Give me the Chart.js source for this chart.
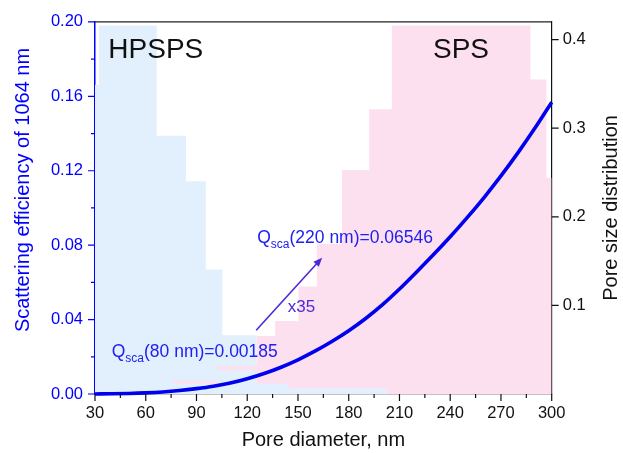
<!DOCTYPE html>
<html>
<head>
<meta charset="utf-8">
<script src="https://cdn.jsdelivr.net/npm/chart.js@4.4.1/dist/chart.umd.min.js"></script>
<style>
  html, body { margin: 0; padding: 0; background: #ffffff; }
  canvas { display: block; }
</style>
</head>
<body>
<canvas id="chart" width="623" height="453"></canvas>
<script>
// Pore size distributions: bin edges (nm) and bin heights (right axis)
const hpspsEdges = [30, 32.4, 66.5, 83.8, 95.5, 105.3, 125.7];
const hpspsHeights = [0.349, 0.416, 0.2915, 0.240, 0.1405, 0.0664];

const spsEdges = [76.3, 102.0, 125.7, 136.5, 150.3, 161.2, 176.0, 192.1, 205.5, 287.4, 296.9, 300];
const spsHeights = [0.0156, 0.0315, 0.0656, 0.0823, 0.1213, 0.1694, 0.2529, 0.3215, 0.416, 0.355, 0.2437];

// small-pore HPSPS bins drawn in front of the SPS bars
const hpspsLowEdges = [76.3, 102.0, 125.7, 144.4, 202.6];
const hpspsLowHeights = [0.0119, 0.0267, 0.0119, 0.0063];

// Scattering efficiency at 1064 nm versus pore diameter (left axis)
const qDiameters = [30, 40, 50, 60, 70, 80, 90, 100, 110, 120, 130, 140, 150, 160, 170,
                    180, 190, 200, 210, 220, 230, 240, 250, 260, 270, 280, 290, 300];
const qScattering = [0.00003, 0.00011, 0.00028, 0.00059, 0.00108, 0.00185, 0.0029, 0.0042,
                     0.0059, 0.0082, 0.0110, 0.0144, 0.0184, 0.0230, 0.0282, 0.0340, 0.0406,
                     0.0480, 0.0564, 0.06546, 0.0748, 0.0845, 0.0948, 0.1056, 0.1172, 0.1296,
                     0.1428, 0.1568];

// Tick values
const xTicks = [30, 60, 90, 120, 150, 180, 210, 240, 270, 300];
const leftTicks = [0, 0.04, 0.08, 0.12, 0.16, 0.20];
const rightTicks = [0.1, 0.2, 0.3, 0.4];

const FONT = '"Liberation Sans", Arial, Helvetica, sans-serif';
const BLUE = '#0000ff';
const NOTE_BLUE = '#2020f0';
const ARROW_COLOR = '#4a2ad8';
const HPSPS_FILL = '#e2f0fd';
const SPS_FILL = '#fde0ef';

// Turn bin edges + heights into points for a stepped line
function toSteps(edges, heights) {
  return edges.map((e, i) => ({ x: e, y: heights[Math.min(i, heights.length - 1)] }));
}

function histogram(label, edges, heights, color, order) {
  return {
    type: 'line',
    label,
    data: toSteps(edges, heights),
    yAxisID: 'y2',
    stepped: 'before',
    fill: 'origin',
    backgroundColor: color,
    borderColor: 'rgba(0,0,0,0)',
    borderWidth: 0,
    pointRadius: 0,
    order,
    clip: 0
  };
}

// Outward tick marks, frame, axis titles and annotations
const decorations = {
  id: 'decorations',
  afterDraw(chart) {
    const { ctx, chartArea: a, scales } = chart;
    const sx = scales.x, sy = scales.y, sy2 = scales.y2;
    ctx.save();

    // top frame line
    ctx.strokeStyle = '#222';
    ctx.lineWidth = 1.2;
    ctx.beginPath();
    ctx.moveTo(a.left, a.top);
    ctx.lineTo(a.right, a.top);
    ctx.stroke();

    const MAJOR = 7, MINOR = 4;

    // bottom axis ticks
    ctx.strokeStyle = '#111';
    ctx.lineWidth = 1.2;
    ctx.beginPath();
    xTicks.forEach((v, i) => {
      const px = sx.getPixelForValue(v);
      ctx.moveTo(px, a.bottom); ctx.lineTo(px, a.bottom + MAJOR);
      if (i < xTicks.length - 1) {
        const pm = sx.getPixelForValue((v + xTicks[i + 1]) / 2);
        ctx.moveTo(pm, a.bottom); ctx.lineTo(pm, a.bottom + MINOR);
      }
    });
    ctx.stroke();

    // left axis ticks
    ctx.strokeStyle = BLUE;
    ctx.beginPath();
    leftTicks.forEach((v, i) => {
      const py = sy.getPixelForValue(v);
      ctx.moveTo(a.left, py); ctx.lineTo(a.left - MAJOR, py);
      if (i < leftTicks.length - 1) {
        const pm = sy.getPixelForValue((v + leftTicks[i + 1]) / 2);
        ctx.moveTo(a.left, pm); ctx.lineTo(a.left - MINOR, pm);
      }
    });
    ctx.stroke();

    // right axis ticks
    ctx.strokeStyle = '#111';
    ctx.beginPath();
    rightTicks.forEach(v => {
      const py = sy2.getPixelForValue(v);
      ctx.moveTo(a.right, py); ctx.lineTo(a.right + MAJOR, py);
    });
    ctx.stroke();

    // vertical axis titles
    ctx.textAlign = 'center';
    ctx.textBaseline = 'middle';
    ctx.font = '20px ' + FONT;
    ctx.fillStyle = BLUE;
    ctx.save();
    ctx.translate(23.5, 190);
    ctx.rotate(-Math.PI / 2);
    ctx.fillText('Scattering efficiency of 1064 nm', 0, 0);
    ctx.restore();
    ctx.fillStyle = '#111';
    ctx.save();
    ctx.translate(611, (a.top + a.bottom) / 2);
    ctx.rotate(-Math.PI / 2);
    ctx.fillText('Pore size distribution', 0, 0);
    ctx.restore();

    // sample labels
    ctx.textAlign = 'left';
    ctx.textBaseline = 'alphabetic';
    ctx.font = '28px ' + FONT;
    ctx.fillStyle = '#111';
    ctx.fillText('HPSPS', sx.getPixelForValue(37.9), sy.getPixelForValue(0.1808));
    ctx.fillText('SPS', sx.getPixelForValue(229.8), sy.getPixelForValue(0.1808));

    // Q_sca labels with subscript
    function qLabel(xv, yv, rest) {
      let x = sx.getPixelForValue(xv);
      const y = sy.getPixelForValue(yv);
      ctx.fillStyle = NOTE_BLUE;
      ctx.font = '17.5px ' + FONT;
      ctx.fillText('Q', x, y);
      x += ctx.measureText('Q').width;
      ctx.font = '12px ' + FONT;
      ctx.fillText('sca', x, y + 5);
      x += ctx.measureText('sca').width;
      ctx.font = '17.5px ' + FONT;
      ctx.fillText(rest, x, y);
    }
    qLabel(39.9, 0.0198, '(80 nm)=0.00185');
    qLabel(125.9, 0.0812, '(220 nm)=0.06546');

    // growth arrow
    const x0 = sx.getPixelForValue(125.3), y0 = sy.getPixelForValue(0.0343);
    const x1 = sx.getPixelForValue(164.3), y1 = sy.getPixelForValue(0.0733);
    const ang = Math.atan2(y1 - y0, x1 - x0);
    const head = 9, half = 3.6;
    ctx.strokeStyle = ARROW_COLOR;
    ctx.fillStyle = ARROW_COLOR;
    ctx.lineWidth = 1.6;
    ctx.beginPath();
    ctx.moveTo(x0, y0);
    ctx.lineTo(x1 - Math.cos(ang) * head * 0.8, y1 - Math.sin(ang) * head * 0.8);
    ctx.stroke();
    ctx.beginPath();
    ctx.moveTo(x1, y1);
    ctx.lineTo(x1 - Math.cos(ang) * head - Math.sin(ang) * half, y1 - Math.sin(ang) * head + Math.cos(ang) * half);
    ctx.lineTo(x1 - Math.cos(ang) * head + Math.sin(ang) * half, y1 - Math.sin(ang) * head - Math.cos(ang) * half);
    ctx.closePath();
    ctx.fill();

    ctx.font = '17px ' + FONT;
    ctx.fillText('x35', sx.getPixelForValue(144.0), sy.getPixelForValue(0.0441));

    ctx.restore();
  }
};

new Chart(document.getElementById('chart'), {
  type: 'line',
  data: {
    datasets: [
      {
        type: 'line',
        label: 'Qsca',
        data: qDiameters.map((d, i) => ({ x: d, y: qScattering[i] })),
        yAxisID: 'y',
        borderColor: '#0000ee',
        borderWidth: 3.6,
        pointRadius: 0,
        cubicInterpolationMode: 'monotone',
        fill: false,
        order: 0,
        clip: 3
      },
      histogram('HPSPS (small pores)', hpspsLowEdges, hpspsLowHeights, HPSPS_FILL, 1),
      histogram('SPS', spsEdges, spsHeights, SPS_FILL, 2),
      histogram('HPSPS', hpspsEdges, hpspsHeights, HPSPS_FILL, 3)
    ]
  },
  options: {
    responsive: false,
    animation: false,
    events: [],
    layout: { padding: { top: 16.5, left: 0, right: 0, bottom: 0 } },
    plugins: { legend: { display: false }, tooltip: { enabled: false } },
    scales: {
      x: {
        type: 'linear',
        min: 30,
        max: 300,
        afterBuildTicks: s => { s.ticks = xTicks.map(v => ({ value: v })); },
        afterFit: s => { s.height = 59; },
        grid: { display: false, drawTicks: false },
        border: { display: true, color: '#111', width: 1.2 },
        ticks: { padding: 10, color: '#111', font: { family: FONT, size: 16.5 }, maxRotation: 0,
                 callback: v => String(v) },
        title: { display: true, text: 'Pore diameter, nm', color: '#111',
                 font: { family: FONT, size: 20 }, padding: { top: 0, bottom: 1 } }
      },
      y: {
        type: 'linear',
        position: 'left',
        min: 0,
        max: 0.2,
        afterBuildTicks: s => { s.ticks = leftTicks.map(v => ({ value: v })); },
        afterFit: s => { s.width = 95; },
        grid: { display: false, drawTicks: false },
        border: { display: true, color: BLUE, width: 1.5 },
        ticks: { padding: 12, color: BLUE, font: { family: FONT, size: 16.5 },
                 callback: v => v.toFixed(2) }
      },
      y2: {
        type: 'linear',
        position: 'right',
        min: 0,
        max: 0.42,
        afterBuildTicks: s => { s.ticks = rightTicks.map(v => ({ value: v })); },
        afterFit: s => { s.width = 71.3; },
        grid: { display: false, drawTicks: false },
        border: { display: true, color: '#111', width: 1.2 },
        ticks: { padding: 11, color: '#111', font: { family: FONT, size: 16.5 },
                 callback: v => v.toFixed(1) }
      }
    }
  },
  plugins: [decorations]
});
</script>
</body>
</html>
